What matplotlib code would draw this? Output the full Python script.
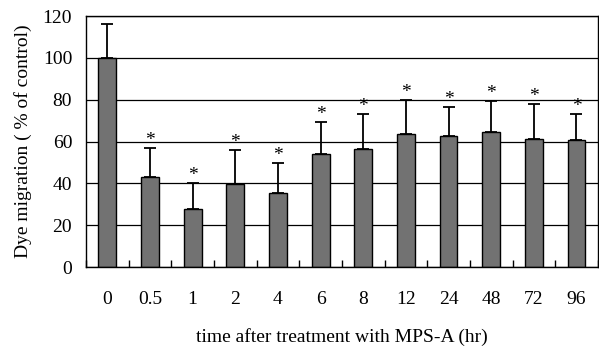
import numpy as np
import matplotlib
matplotlib.use('Agg')
import matplotlib.pyplot as plt
from matplotlib.ticker import FixedLocator

plt.rcParams['font.family'] = 'Liberation Serif'
plt.rcParams['font.size'] = 14

# data
time_labels = ['0', '0.5', '1', '2', '4', '6', '8', '12', '24', '48', '72', '96']
migration = [100, 43.2, 27.6, 39.7, 35.6, 53.9, 56.3, 63.6, 62.5, 64.4, 61.4, 60.6]
err_up = [16, 13.6, 12.7, 16.3, 14.0, 15.4, 16.7, 16.1, 14.0, 14.8, 16.5, 12.4]
signif = [False, True, True, True, True, True, True, True, True, True, True, True]

x = np.arange(len(time_labels))

fig = plt.figure(figsize=(5.99, 3.5), dpi=100)
ax = fig.add_axes([0.1436, 0.237, 0.8544, 0.717])

ax.set_axisbelow(True)
ax.yaxis.grid(True, color='black', linewidth=0.9)
ax.bar(x, migration, width=0.42, color='#727272', edgecolor='black', linewidth=1.0,
       yerr=[np.zeros(len(x)), err_up], capsize=4.5,
       error_kw=dict(ecolor='black', elinewidth=1.3, capthick=1.3))

for xi, m, e, s in zip(x, migration, err_up, signif):
    if s:
        ax.text(xi, m + e - 0.5, '*', ha='center', va='bottom', fontsize=14)

ax.set_xlim(-0.5, len(x) - 0.5)
ax.set_ylim(0, 120)
ax.set_yticks(np.arange(0, 121, 20))
ax.set_xticks(x)
ax.set_xticklabels(time_labels)
ax.xaxis.set_minor_locator(FixedLocator(np.arange(-0.5, len(x), 1.0)))
ax.tick_params(axis='x', which='major', length=0, pad=17)
ax.tick_params(axis='x', which='minor', direction='in', length=5, width=1)
ax.tick_params(axis='y', which='major', length=0, pad=10)

for sp in ax.spines.values():
    sp.set_linewidth(1.0)

ax.set_ylabel('Dye migration ( % of control)', labelpad=8)
ax.set_xlabel('time after treatment with MPS-A (hr)', labelpad=15)

fig.savefig('out.png', dpi=100)
